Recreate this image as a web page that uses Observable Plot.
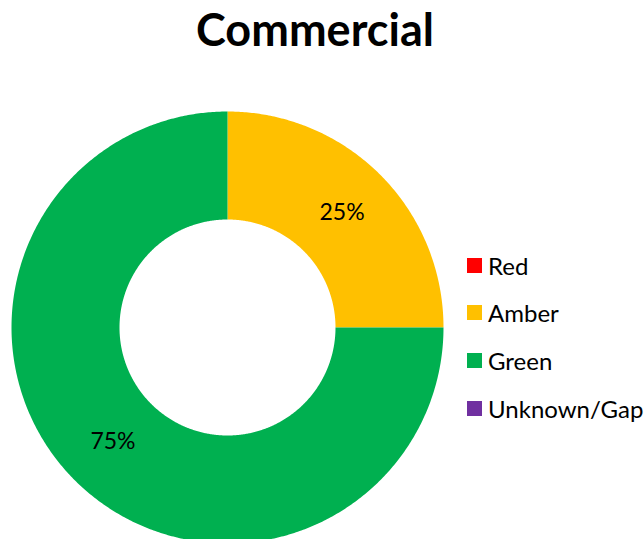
<!DOCTYPE html>
<html><head><meta charset="utf-8">
<script src="https://cdn.jsdelivr.net/npm/d3@7"></script>
<script src="https://cdn.jsdelivr.net/npm/@observablehq/plot@0.6"></script>
<style>
body{margin:0;background:#fff;overflow:hidden;}
#wrap{position:relative;width:644px;height:539px;font-family:Lato,"Open Sans",sans-serif;color:#000;overflow:hidden;}
#title{position:absolute;left:0;top:3px;width:630px;text-align:center;font-weight:bold;font-size:45px;line-height:52px;}
#chart{position:absolute;left:0;top:0;}
#legend{position:absolute;left:467px;top:0;}
.item{position:absolute;left:0;display:flex;align-items:center;white-space:nowrap;font-size:24px;height:30px;}
.sw{width:15px;height:15px;margin-right:6px;flex:none;}
</style></head>
<body><div id="wrap"><div id="chart"></div><div id="title"></div><div id="legend"></div></div>
<script>
const title = "Commercial";
const categories = ["Red", "Amber", "Green", "Unknown/Gap"];
const values = [0, 25, 75, 0];
const colors = ["#FF0000", "#FFC000", "#00B050", "#7030A0"];

document.getElementById("title").textContent = title;

const outerR = 216, innerR = 108;
const total = d3.sum(values);
// build slice polygons (angles measured clockwise from 12 o'clock)
const slices = [];
let acc = 0;
categories.forEach((c, i) => {
  const a0 = acc / total * 2 * Math.PI;
  acc += values[i];
  const a1 = acc / total * 2 * Math.PI;
  slices.push({cat: c, value: values[i], a0, a1});
});
const pts = [];
for (const s of slices) {
  if (s.value <= 0) continue;
  const n = Math.max(2, Math.ceil((s.a1 - s.a0) / (Math.PI / 360)));
  const ring = [];
  for (let k = 0; k <= n; k++) {
    const a = s.a0 + (s.a1 - s.a0) * k / n;
    ring.push({cat: s.cat, x: outerR * Math.sin(a), y: outerR * Math.cos(a)});
  }
  for (let k = n; k >= 0; k--) {
    const a = s.a0 + (s.a1 - s.a0) * k / n;
    ring.push({cat: s.cat, x: innerR * Math.sin(a), y: innerR * Math.cos(a)});
  }
  pts.push(...ring);
}
const labels = slices.filter(s => s.value > 0).map(s => {
  const m = (s.a0 + s.a1) / 2, r = (outerR + innerR) / 2;
  return {x: r * Math.sin(m), y: r * Math.cos(m), text: Math.round(s.value / total * 100) + "%"};
});

const chart = Plot.plot({
  width: 644, height: 539, margin: 0,
  x: {domain: [-227, 417], axis: null},
  y: {domain: [-212, 327], axis: null},
  color: {domain: categories, range: colors},
  style: {fontFamily: "Lato, 'Open Sans', sans-serif", background: "white"},
  marks: [
    Plot.line(pts, {x: "x", y: "y", z: "cat", fill: "cat", stroke: null, curve: "linear-closed"}),
    Plot.text(labels, {x: "x", y: "y", text: "text", fontSize: 23, fill: "black"})
  ]
});
document.getElementById("chart").appendChild(chart);

const leg = document.getElementById("legend");
const rowY = [265, 312, 360, 408];
categories.forEach((c, i) => {
  const it = document.createElement("div");
  it.className = "item";
  it.style.top = (rowY[0] + i * (rowY[3] - rowY[0]) / 3 - 15) + "px";
  const sw = document.createElement("span");
  sw.className = "sw";
  sw.style.background = chart.scale("color").apply(c);
  const t = document.createElement("span");
  t.textContent = c;
  it.appendChild(sw); it.appendChild(t);
  leg.appendChild(it);
});
</script></body></html>
